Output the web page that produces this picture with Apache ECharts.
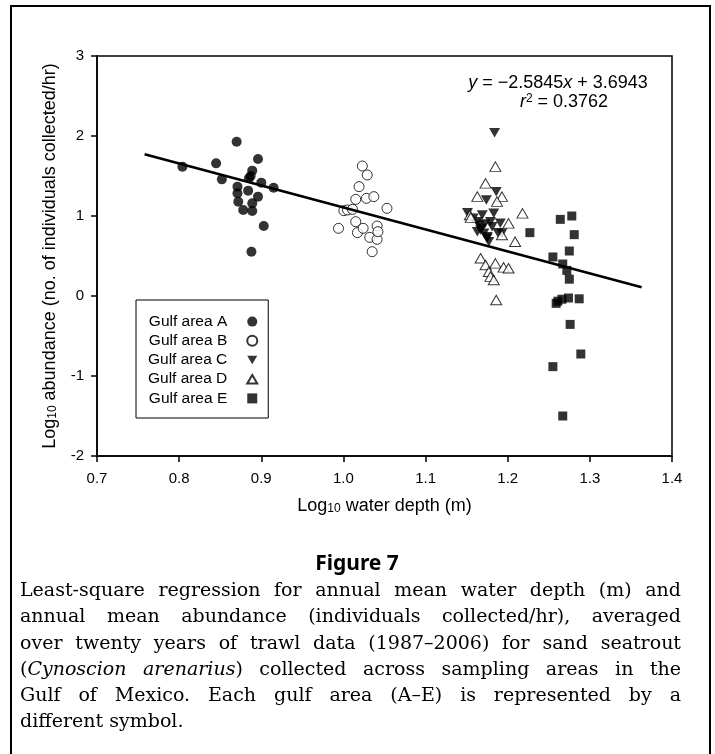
<!DOCTYPE html>
<html><head><meta charset="utf-8">
<script src="https://cdn.jsdelivr.net/npm/echarts@6/dist/echarts.min.js"></script>
<style>html,body{margin:0;padding:0;background:#fff}#c{width:715px;height:754px}</style>
</head><body><div id="c"></div>
<script>
// ---- data (log10 depth, log10 abundance) ----
const areaA = [[0.804,1.617],[0.845,1.658],[0.852,1.458],[0.870,1.929],[0.871,1.367],[0.871,1.283],[0.872,1.179],[0.878,1.075],[0.884,1.317],[0.885,1.471],[0.889,1.567],[0.896,1.713],[0.900,1.417],[0.896,1.242],[0.889,1.158],[0.889,1.063],[0.903,0.875],[0.888,0.554],[0.915,1.354],[0.887,1.50]];
const areaB = [[0.994,0.846],[1.0005,1.067],[1.005,1.075],[1.011,1.083],[1.015,0.929],[1.017,0.792],[1.023,1.625],[1.029,1.513],[1.019,1.367],[1.015,1.208],[1.028,1.221],[1.037,1.242],[1.053,1.096],[1.024,0.846],[1.032,0.733],[1.035,0.554],[1.041,0.875],[1.041,0.708],[1.042,0.804]];
const areaC = [[1.184,2.041],[1.186,1.304],[1.174,1.2],[1.151,1.042],[1.158,0.971],[1.169,1.0125],[1.183,1.033],[1.163,0.929],[1.165,0.888],[1.172,0.9],[1.179,0.929],[1.191,0.908],[1.167,0.825],[1.181,0.867],[1.193,0.783],[1.175,0.721],[1.171,0.783],[1.163,0.804],[1.175,0.742],[1.188,0.792],[1.177,0.679],[1.168,0.846]];
const areaD = [[1.185,1.617],[1.173,1.408],[1.163,1.242],[1.193,1.242],[1.187,1.18],[1.154,1.0125],[1.155,0.98],[1.218,1.033],[1.201,0.908],[1.193,0.7625],[1.209,0.679],[1.167,0.471],[1.173,0.3875],[1.185,0.408],[1.195,0.358],[1.201,0.346],[1.177,0.304],[1.179,0.242],[1.183,0.2],[1.186,-0.05]];
const areaE = [[1.227,0.792],[1.264,0.958],[1.278,1.0],[1.281,0.767],[1.275,0.5625],[1.255,0.488],[1.267,0.4],[1.272,0.32],[1.275,0.21],[1.261,-0.065],[1.266,-0.04],[1.274,-0.025],[1.287,-0.035],[1.259,-0.092],[1.276,-0.355],[1.289,-0.725],[1.255,-0.883],[1.267,-1.5]];
const regLine = [[0.758,1.772],[1.363,0.11]];
const seriesNames = ['Gulf area A','Gulf area B','Gulf area C','Gulf area D','Gulf area E'];
const equationText = '{i|y} = \u22122.5845{i|x} + 3.6943';
const r2Text = '{i|r}{sup|2} = 0.3762';
const figureTitle = 'Figure 7';
const captionLines = [
  'Least-square regression for annual mean water depth (m) and',
  'annual mean abundance (individuals collected/hr), averaged',
  'over twenty years of trawl data (1987\u20132006) for sand seatrout',
  '(_Cynoscion_ _arenarius_) collected across sampling areas in the',
  'Gulf of Mexico. Each gulf area (A\u2013E) is represented by a',
  'different symbol.'
];

const SANS = 'Liberation Sans';
const chart = echarts.init(document.getElementById('c'), null, {renderer:'canvas'});

// caption layout (justified)
const capFamily = "'DejaVu Serif'";
const capSize = 19;
const ctx = document.createElement('canvas').getContext('2d');
function fontStr(it){ return (it ? 'italic ' : '') + capSize + 'px ' + capFamily; }
function meas(t, it){ ctx.font = fontStr(it); return ctx.measureText(t).width; }
const capL = 20, capR = 681, capTop = 591, capStep = 26.3;
const graphics = [];
captionLines.forEach((line, li) => {
  const words = line.split(' ').map(w => {
    const parts = [];
    w.split('_').forEach((p, i) => { if (p) parts.push({t: p, it: i % 2 === 1}); });
    return parts;
  });
  const widths = words.map(ps => ps.reduce((s, p) => s + meas(p.t, p.it), 0));
  const total = widths.reduce((a, b) => a + b, 0);
  const last = li === captionLines.length - 1;
  const gap = last ? meas(' ', false) : (capR - capL - total) / (words.length - 1);
  let x = capL;
  const y = capTop + li * capStep;
  words.forEach((ps, wi) => {
    let px = x;
    ps.forEach(p => {
      graphics.push({type:'text', x: px, y: y, silent:true,
        style:{text: p.t, font: fontStr(p.it), fill:'#000', align:'left', verticalAlign:'middle'}});
      px += meas(p.t, p.it);
    });
    x += widths[wi] + gap;
  });
});

graphics.push({type:'rect', silent:true, shape:{x:11, y:6, width:699, height:780}, style:{fill:'none', stroke:'#000', lineWidth:2}});
graphics.push({type:'text', x:558, y:83, silent:true, style:{text: equationText, fontSize:18, fontFamily:SANS, fill:'#000', align:'center', verticalAlign:'middle',
  rich:{i:{fontStyle:'italic', fontSize:18, fontFamily:SANS, fill:'#000'}}}});
graphics.push({type:'text', x:564, y:102, silent:true, style:{text: r2Text, fontSize:18, fontFamily:SANS, fill:'#000', align:'center', verticalAlign:'middle',
  rich:{i:{fontStyle:'italic', fontSize:18, fontFamily:SANS, fill:'#000'}, sup:{fontSize:12, fontFamily:SANS, fill:'#000', verticalAlign:'top'}}}});
graphics.push({type:'text', x:357, y:564, silent:true, style:{text: figureTitle, font:"bold 21px 'Noto Sans'", fill:'#000', align:'center', verticalAlign:'middle'}});

const downTri = 'path://M0,0L20,0L10,17Z';
const upTri = 'path://M10,0L20,17L0,17Z';
const markerStyles = [
  {symbol:'circle', symbolSize:10, itemStyle:{color:'#000'}},
  {symbol:'circle', symbolSize:10, itemStyle:{color:'#fff', borderColor:'#000', borderWidth:1}},
  {symbol:downTri, symbolSize:[11,9.5], itemStyle:{color:'#000'}},
  {symbol:upTri, symbolSize:[11,9.5], itemStyle:{color:'#fff', borderColor:'#000', borderWidth:1}},
  {symbol:'rect', symbolSize:9, itemStyle:{color:'#000'}}
];
const dataSets = [areaA, areaB, areaC, areaD, areaE];

const axisTitleStyle = {fontSize:18, fontFamily:SANS, color:'#000',
  rich:{sub:{fontSize:12, fontFamily:SANS, color:'#000', verticalAlign:'bottom'}}};

chart.setOption({
  animation:false,
  backgroundColor:'#fff',
  grid:{left:97, top:56, right:43, bottom:298, show:true, borderColor:'#000', borderWidth:1.5, backgroundColor:'transparent'},
  xAxis:{type:'value', min:0.7, max:1.4, interval:0.1,
    name:'Log{sub|10} water depth (m)', nameLocation:'middle', nameGap:41, nameTextStyle:axisTitleStyle,
    axisLine:{show:true, onZero:false, lineStyle:{color:'#000', width:1.5}},
    axisTick:{show:true, length:6, lineStyle:{color:'#000', width:1.5}},
    splitLine:{show:false},
    axisLabel:{color:'#000', fontSize:15, fontFamily:SANS, margin:15, formatter:v => v.toFixed(1)}},
  yAxis:{type:'value', min:-2, max:3, interval:1,
    name:'Log{sub|10} abundance (no. of individuals collected/hr)', nameLocation:'middle', nameGap:38, nameTextStyle:axisTitleStyle,
    axisLine:{show:true, onZero:false, lineStyle:{color:'#000', width:1.5}},
    axisTick:{show:true, length:6, lineStyle:{color:'#000', width:1.5}},
    splitLine:{show:false},
    axisLabel:{color:'#000', fontSize:15, fontFamily:SANS, margin:13, formatter:v => String(v)}},
  legend:{data:seriesNames, orient:'vertical', left:136, top:300, align:'right',
    itemWidth:10, itemHeight:10, itemGap:0,
    padding:[12,10,10,12], borderColor:'#000', borderWidth:1, backgroundColor:'#fff',
    textStyle:{fontSize:15.5, fontFamily:SANS, color:'#000', lineHeight:19.2, padding:[0,15,0,0]}},
  graphic:graphics,
  series:[
    ...dataSets.map((d, i) => Object.assign({type:'scatter', name:seriesNames[i], data:d, z:2+i}, markerStyles[i])),
    {type:'line', data:regLine, symbol:'none', z:10, lineStyle:{color:'#000', width:2.5}, silent:true}
  ]
});
</script></body></html>
